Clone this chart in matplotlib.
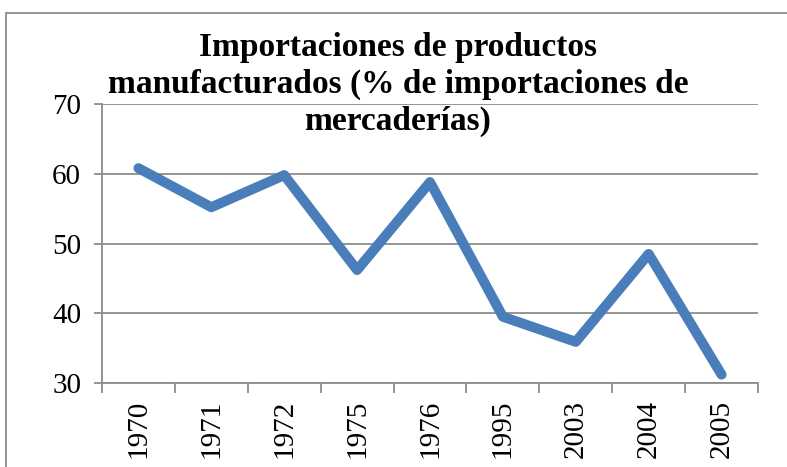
import matplotlib.pyplot as plt
from matplotlib.patches import Rectangle
import numpy as np

years = ['1970', '1971', '1972', '1975', '1976', '1995', '2003', '2004', '2005']
values = [60.8, 55.2, 59.8, 46.2, 58.8, 39.5, 35.9, 48.5, 31.2]
y_ticks = [30, 40, 50, 60, 70]

title = 'Importaciones de productos\nmanufacturados (% de importaciones de\nmercaderías)'

W, H = 787, 467
fig = plt.figure(figsize=(W / 100, H / 100), dpi=100)

# chart area border (only left and top visible in the reference)
fig.patches.append(Rectangle((6 / W, 0 - 0.05), 1.1, 1 - 13 / H + 0.05,
                             transform=fig.transFigure, fill=False,
                             edgecolor='#8c8c8c', linewidth=1.3))

ax = fig.add_axes([102 / W, 1 - 383 / H, (758 - 102) / W, (383 - 104) / H])

x = np.arange(len(years))
ax.plot(x, values, color='#4A7EBB', linewidth=7.2,
        solid_capstyle='round', solid_joinstyle='round', zorder=3)

ax.set_xlim(-0.5, len(years) - 0.5)
ax.set_ylim(30, 70)
ax.set_yticks(y_ticks)
ax.set_yticklabels([str(t) for t in y_ticks], fontfamily='Liberation Serif', fontsize=21)
ax.set_xticks(x)
ax.set_xticklabels(years, rotation=90, fontfamily='Liberation Serif', fontsize=21)
ax.set_xticks(np.arange(len(years) + 1) - 0.5, minor=True)

ax.grid(axis='y', color='#8c8c8c', linewidth=1.3, zorder=1)
for s in ['top', 'right']:
    ax.spines[s].set_visible(False)
for s in ['left', 'bottom']:
    ax.spines[s].set_color('#8c8c8c')
    ax.spines[s].set_linewidth(1.3)

ax.tick_params(axis='y', length=6, width=1.3, color='#8c8c8c', pad=9)
ax.tick_params(axis='x', which='major', length=0, pad=12)
ax.tick_params(axis='x', which='minor', length=7, width=1.3, color='#8c8c8c')

fig.text(398 / W, 1 - 32 / H, title, ha='center', va='top',
         fontfamily='Liberation Serif', fontweight='bold', fontsize=24,
         linespacing=1.23)

fig.savefig('out.png', dpi=100)
